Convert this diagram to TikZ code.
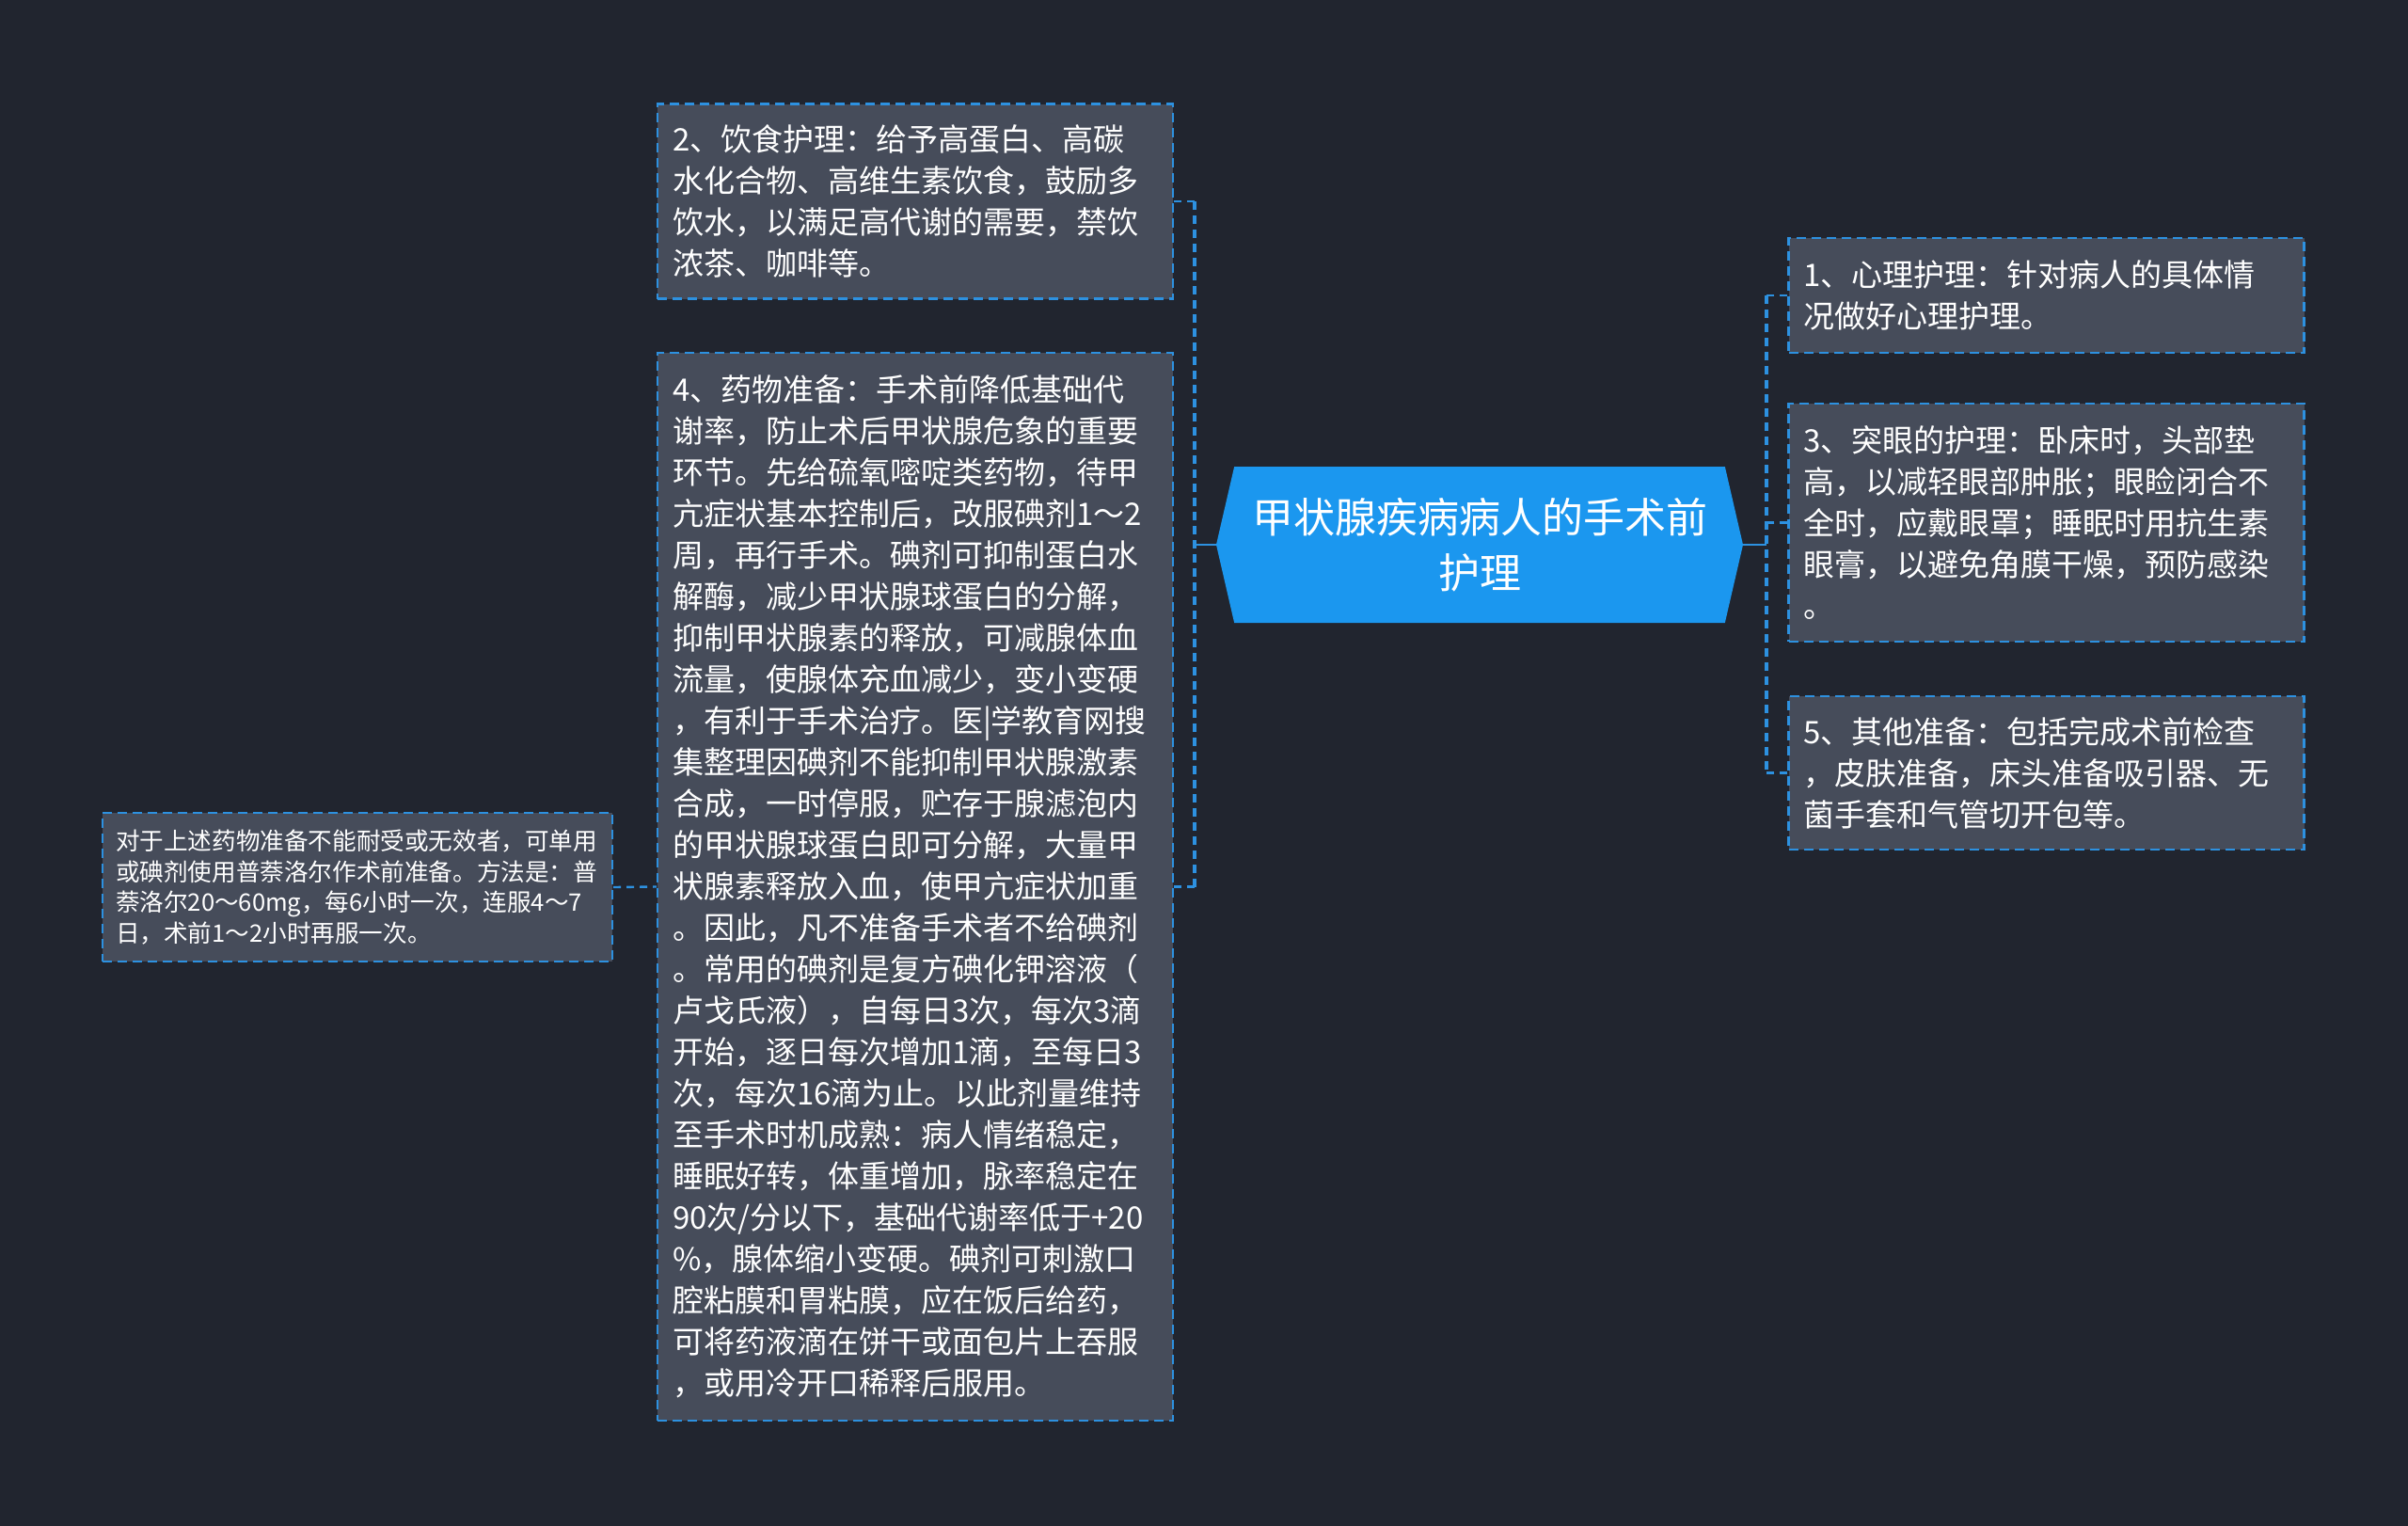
\documentclass[tikz,border=0pt]{standalone}
\usepackage{fontspec}
\setmainfont{Noto Sans CJK SC}
\usetikzlibrary{shapes.symbols}

\definecolor{bgnavy}{HTML}{21252F}
\definecolor{boxgray}{HTML}{464C5A}
\definecolor{linkblue}{HTML}{2D91E0}
\definecolor{rootblue}{HTML}{1B97EF}

\tikzset{
    topic/.style={draw=linkblue, line width=1.1pt, dash pattern=on 5pt off 3pt, fill=boxgray, text=white,
        align=left, inner xsep=8pt, inner ysep=5pt, text width=258pt, font=\fontsize{16.5}{22}\selectfont},
    note/.style={topic, inner xsep=7pt, text width=257pt, font=\fontsize{12.8}{16.3}\selectfont},
    root/.style={signal, signal to=west and east, signal pointer angle=154, fill=rootblue, text=white,
        align=center, inner sep=0pt, minimum width=280pt, minimum height=83pt, font=\fontsize{22}{29.5}\selectfont},
    brace/.style={linkblue, line width=2pt, dash pattern=on 4.5pt off 3pt},
    stub/.style={linkblue, line width=1.2pt, dash pattern=on 4pt off 3pt},
    stem/.style={linkblue, line width=1.3pt},
}

\begin{document}
\begin{tikzpicture}[x=1pt, y=-1pt]
    \fill[bgnavy] (0,0) rectangle (1280,811);
    \useasboundingbox (0,0) rectangle (1280,811);

    \node[root] (root) at (786.5,289.5) {甲状腺疾病病人的手术前\\护理};

    % left branch
    \node[topic, minimum height=103.5pt] (diet) at (486.5,107) {2、饮食护理：给予高蛋白、高碳\\水化合物、高维生素饮食，鼓励多\\饮水，以满足高代谢的需要，禁饮\\浓茶、咖啡等。};
    \node[topic, minimum height=567.5pt] (drug) at (486.5,471.25) {4、药物准备：手术前降低基础代\\谢率，防止术后甲状腺危象的重要\\环节。先给硫氧嘧啶类药物，待甲\\亢症状基本控制后，改服碘剂1～2\\周，再行手术。碘剂可抑制蛋白水\\解酶，减少甲状腺球蛋白的分解，\\抑制甲状腺素的释放，可减腺体血\\流量，使腺体充血减少，变小变硬\\，有利于手术治疗。医|学教育网搜\\集整理因碘剂不能抑制甲状腺激素\\合成，一时停服，贮存于腺滤泡内\\的甲状腺球蛋白即可分解，大量甲\\状腺素释放入血，使甲亢症状加重\\。因此，凡不准备手术者不给碘剂\\。常用的碘剂是复方碘化钾溶液（\\卢戈氏液），自每日3次，每次3滴\\开始，逐日每次增加1滴，至每日3\\次，每次16滴为止。以此剂量维持\\至手术时机成熟：病人情绪稳定，\\睡眠好转，体重增加，脉率稳定在\\90次/分以下，基础代谢率低于+20\\\%，腺体缩小变硬。碘剂可刺激口\\腔粘膜和胃粘膜，应在饭后给药，\\可将药液滴在饼干或面包片上吞服\\，或用冷开口稀释后服用。};
    \node[note, minimum height=79pt] (iodine) at (190,471.5) {对于上述药物准备不能耐受或无效者，可单用\\或碘剂使用普萘洛尔作术前准备。方法是：普\\萘洛尔20～60mg，每6小时一次，连服4～7\\日，术前1～2小时再服一次。};

    % right branch
    \node[topic, minimum height=61pt] (mind) at (1087.75,157) {1、心理护理：针对病人的具体情\\况做好心理护理。};
    \node[topic, minimum height=126.5pt] (eye) at (1087.75,277.75) {3、突眼的护理：卧床时，头部垫\\高，以减轻眼部肿胀；眼睑闭合不\\全时，应戴眼罩；睡眠时用抗生素\\眼膏，以避免角膜干燥，预防感染\\。};
    \node[topic, minimum height=81.5pt] (other) at (1087.75,410.75) {5、其他准备：包括完成术前检查\\，皮肤准备，床头准备吸引器、无\\菌手套和气管切开包等。};

    % connectors
    \coordinate (lj) at ([xshift=-11.5pt]root.west);
    \coordinate (rj) at ([xshift=12.5pt]root.east);
    \draw[stem] (root.west) -- (lj);
    \draw[stem] (root.east) -- (rj);
    \draw[brace] (lj |- diet.east) -- (lj |- drug.east);
    \draw[brace] (rj |- mind.west) -- (rj |- other.west);
    \draw[stub] (diet.east) -- (lj |- diet.east);
    \draw[stub] (drug.east) -- (lj |- drug.east);
    \draw[stub] (mind.west) -- (rj |- mind.west);
    \draw[stub] (eye.west) -- (rj |- eye.west);
    \draw[stub] (other.west) -- (rj |- other.west);
    \draw[stub] (iodine.east) -- (drug.west);
\end{tikzpicture}
\end{document}
